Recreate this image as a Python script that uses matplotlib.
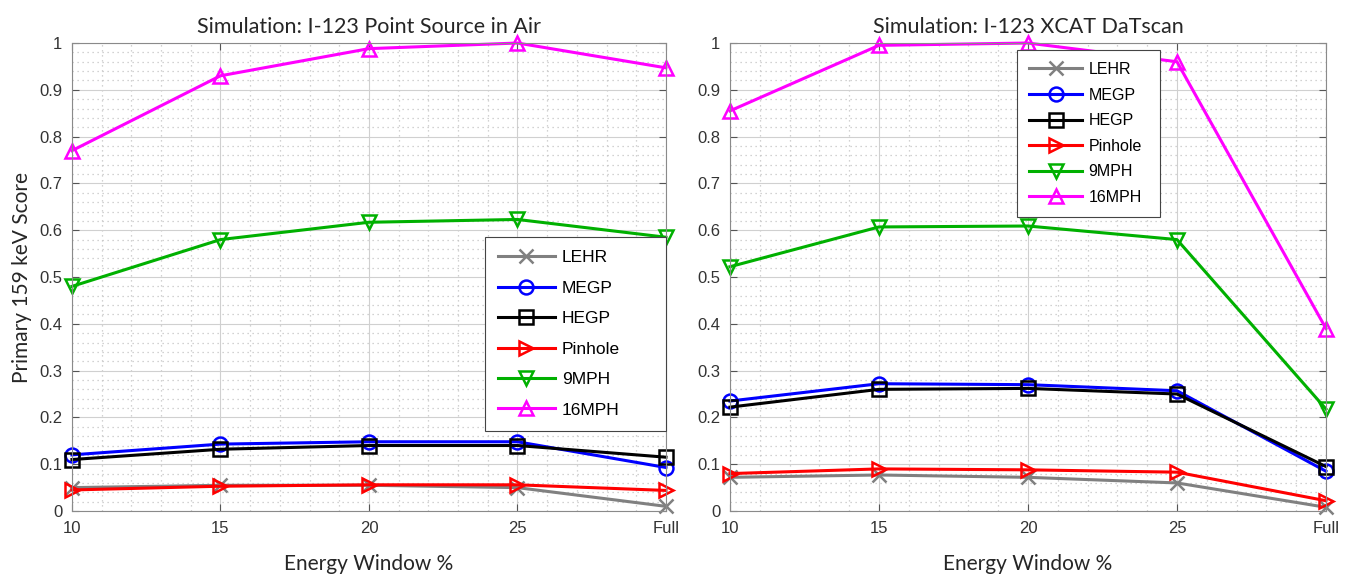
import matplotlib.pyplot as plt
from matplotlib.ticker import FixedLocator, MultipleLocator, FormatStrFormatter

windows = ["10", "15", "20", "25", "Full"]
series_names = ["LEHR", "MEGP", "HEGP", "Pinhole", "9MPH", "16MPH"]

# Simulation: I-123 point source in air
air_lehr = [0.050, 0.055, 0.055, 0.050, 0.010]
air_megp = [0.120, 0.143, 0.148, 0.148, 0.093]
air_hegp = [0.110, 0.132, 0.140, 0.140, 0.115]
air_pinhole = [0.045, 0.053, 0.056, 0.056, 0.044]
air_9mph = [0.480, 0.580, 0.617, 0.623, 0.585]
air_16mph = [0.770, 0.930, 0.988, 1.000, 0.947]

# Simulation: I-123 XCAT DaTscan
xcat_lehr = [0.072, 0.077, 0.072, 0.060, 0.008]
xcat_megp = [0.235, 0.272, 0.270, 0.257, 0.085]
xcat_hegp = [0.222, 0.260, 0.262, 0.250, 0.095]
xcat_pinhole = [0.080, 0.090, 0.088, 0.083, 0.022]
xcat_9mph = [0.522, 0.607, 0.609, 0.580, 0.218]
xcat_16mph = [0.855, 0.995, 1.000, 0.960, 0.390]

COLORS = ["#808080", "#0000ff", "#000000", "#ff0000", "#00b000", "#ff00ff"]
MARKERS = ["x", "o", "s", ">", "v", "^"]
LABEL_FONT = "Lato"
TICK_FONT = "Liberation Sans"


def _draw_panel(ax, data, title, legend_box, legend_size, legend_spacing):
    x = list(range(len(windows)))
    for name, values, color, marker in zip(series_names, data, COLORS, MARKERS):
        ax.plot(x, values, color=color, marker=marker, markersize=10,
                markerfacecolor="none", markeredgewidth=1.8, linewidth=2.2,
                label=name, clip_on=False)

    ax.set_xlim(0, len(windows) - 1)
    ax.set_ylim(0, 1)
    ax.xaxis.set_major_locator(FixedLocator(x))
    ax.set_xticklabels(windows)
    ax.xaxis.set_minor_locator(MultipleLocator(0.2))
    ax.yaxis.set_major_locator(MultipleLocator(0.1))
    ax.yaxis.set_minor_locator(MultipleLocator(0.02))
    ax.yaxis.set_major_formatter(FormatStrFormatter("%g"))

    ax.grid(which="major", color="#d0d0d0", linewidth=0.8)
    ax.grid(which="minor", color="#c4c4c4", linewidth=0.9, linestyle=(0, (1, 3)))
    ax.set_axisbelow(True)
    ax.tick_params(which="both", direction="in", top=True, right=True,
                   colors="#555555", labelcolor="#333333", labelsize=12)
    ax.tick_params(which="minor", length=0)
    ax.tick_params(which="major", length=5, pad=7)
    for label in ax.get_xticklabels() + ax.get_yticklabels():
        label.set_fontfamily(TICK_FONT)
    for spine in ax.spines.values():
        spine.set_color("#8a8a8a")

    ax.set_title(title, fontsize=15.5, family=LABEL_FONT, color="#262626", pad=7)
    ax.set_xlabel("Energy Window %", fontsize=15, family=LABEL_FONT,
                  color="#262626", labelpad=13)

    leg = ax.legend(loc="upper left", bbox_to_anchor=legend_box, mode="expand",
                    prop={"family": TICK_FONT, "size": legend_size},
                    handlelength=3.3, handletextpad=0.4,
                    labelspacing=legend_spacing, borderpad=0.75,
                    fancybox=False, framealpha=1, edgecolor="#444444",
                    borderaxespad=0)
    leg.get_frame().set_linewidth(0.8)
    return leg


fig = plt.figure(figsize=(13.5, 5.79), dpi=100)
ax_air = fig.add_axes([0.0533, 0.1174, 0.440, 0.8083])
ax_xcat = fig.add_axes([0.5407, 0.1174, 0.4415, 0.8083])

_draw_panel(ax_air,
            [air_lehr, air_megp, air_hegp, air_pinhole, air_9mph, air_16mph],
            "Simulation: I-123 Point Source in Air",
            (0.695, 0.585, 0.305, 0.0), 12.5, 0.88)
_draw_panel(ax_xcat,
            [xcat_lehr, xcat_megp, xcat_hegp, xcat_pinhole, xcat_9mph, xcat_16mph],
            "Simulation: I-123 XCAT DaTscan",
            (0.482, 0.985, 0.24, 0.0), 11.5, 0.66)

ax_air.set_ylabel("Primary 159 keV Score", fontsize=15, family=LABEL_FONT,
                  color="#262626", labelpad=5)

fig.savefig("out.png", dpi=100)
